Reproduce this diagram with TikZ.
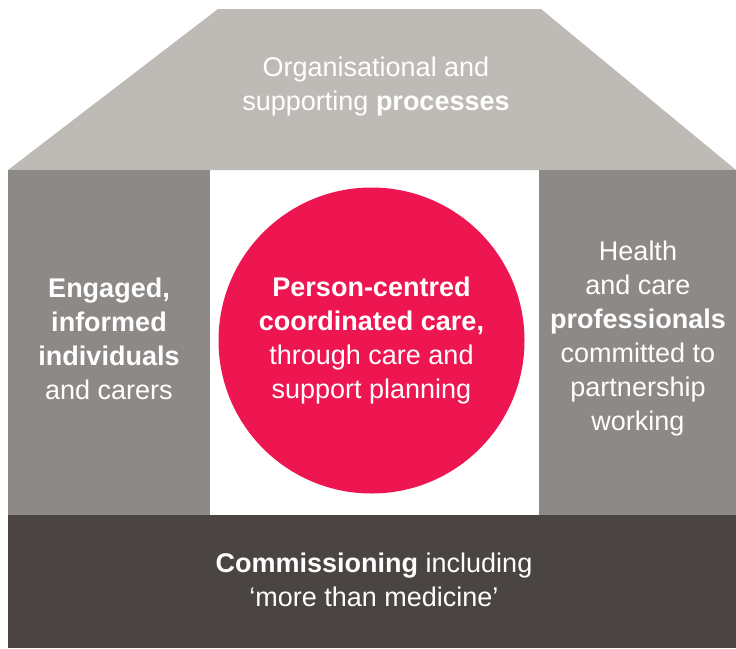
\documentclass[tikz,border=0pt]{standalone}
\usepackage{fontspec}
\setmainfont{Liberation Sans}
\definecolor{roofgrey}{HTML}{BEBAB5}
\definecolor{pillargrey}{HTML}{8D8987}
\definecolor{basegrey}{HTML}{4A4542}
\definecolor{carered}{HTML}{ED1651}

\begin{document}
\begin{tikzpicture}[x=1pt, y=-1pt,
    housetext/.style={text=white, align=center, inner sep=0pt,
      font=\fontsize{27}{34}\selectfont}]
    \useasboundingbox (0,0) rectangle (736,648);

    % das Haus
    \fill[roofgrey] (8,170) -- (218,9) -- (541,9) -- (736,170) -- cycle;
    \fill[pillargrey] (8,170) rectangle (210,515);
    \fill[pillargrey] (539,170) rectangle (736,515);
    \fill[basegrey] (8,515) rectangle (736,648);

    \node[circle, fill=carered, minimum size=306pt, housetext] (care) at (371.5,340.5)
      {\textbf{Person-centred}\\\textbf{coordinated care,}\\through care and\\support planning};

    % Beschriftungen
    \node[housetext] (roof) at (376,87) {Organisational and\\supporting \textbf{processes}};
    \node[housetext] (left) at (109,339) {\textbf{Engaged,}\\\textbf{informed}\\\textbf{individuals}\\and carers};
    \node[housetext] (right) at (638,338.5) {Health\\and care\\\textbf{professionals}\\committed to\\partnership\\working};
    \node[housetext] (base) at (374,580) {\textbf{Commissioning} including\\‘more than medicine’};
\end{tikzpicture}
\end{document}
